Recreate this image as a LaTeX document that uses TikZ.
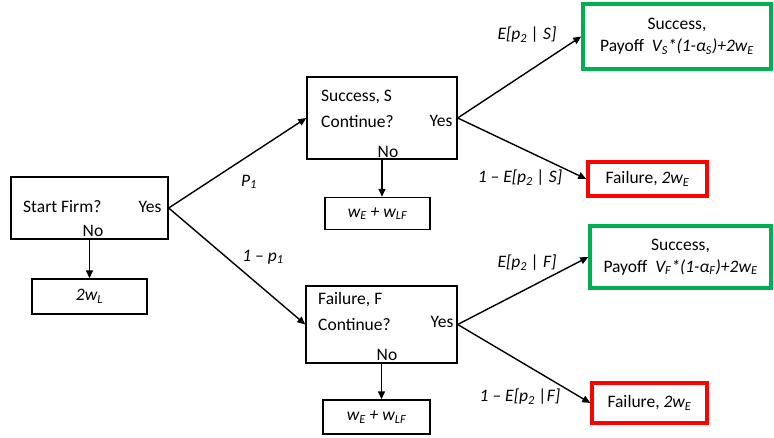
\documentclass[tikz,border=0pt]{standalone}
\usepackage{fontspec}
\setmainfont{Carlito}
\usetikzlibrary{arrows.meta}
\definecolor{boxgreen}{RGB}{0,176,80}
\definecolor{boxred}{RGB}{255,0,0}

\tikzset{
  every node/.style={font=\fontsize{17.5}{22}\selectfont},
  plainbox/.style={draw, line width=1.4pt, inner sep=0, minimum width=#1},
  greenbox/.style={draw=boxgreen, line width=3.5pt, inner sep=0, align=center},
  redbox/.style={draw=boxred, line width=3.5pt, inner sep=0},
  txt/.style={inner sep=0},
  conn/.style={line width=1.4pt, -{Triangle[length=8pt,width=7pt]}},
}

\begin{document}
\begin{tikzpicture}[x=1pt,y=-1pt]
\useasboundingbox (0,0) rectangle (774,438);

% first decision
\node[plainbox=157, minimum height=62] (start) at (89.5,208) {};
\node[txt, anchor=west] (startq) at (23,207) {Start Firm?};
\node[txt] (startyes) at (150,207) {Yes};
\node[txt] (startno) at (93,231) {No};
\node[plainbox=115, minimum height=35] (wl) at (89.5,296.5) {\textit{2w\textsubscript{L}}};

% success branch
\node[plainbox=150, minimum height=82] (S) at (382,118) {};
\node[txt, anchor=west] (Sq1) at (321,97) {Success, S};
\node[txt, anchor=west] (Sq2) at (321,122) {Continue?};
\node[txt] (Syes) at (441,121) {Yes};
\node[txt] (Sno) at (388,152) {No};
\node[plainbox=105, minimum height=32] (wS) at (377.5,213.5) {\textit{w\textsubscript{E} + w\textsubscript{LF}}};

% failure branch
\node[plainbox=151, minimum height=77] (F) at (381.5,324.5) {};
\node[txt, anchor=west] (Fq1) at (318,300) {Failure, F};
\node[txt, anchor=west] (Fq2) at (318,325) {Continue?};
\node[txt] (Fyes) at (442,322) {Yes};
\node[txt] (Fno) at (387,355) {No};
\node[plainbox=107, minimum height=34] (wF) at (376.5,417) {\textit{w\textsubscript{E} + w\textsubscript{LF}}};

% outcomes
\node[greenbox, minimum width=188, minimum height=65] (SS) at (677,36.5)
  {Success,\\Payoff\ \ \textit{V\textsubscript{S}*(1-α\textsubscript{S})+2w\textsubscript{E}}};
\node[redbox, minimum width=119, minimum height=34] (SF) at (647.5,179) {Failure, \textit{2w\textsubscript{E}}};
\node[greenbox, minimum width=181, minimum height=62] (FS) at (680.5,257)
  {Success,\\Payoff\ \ \textit{V\textsubscript{F}*(1-α\textsubscript{F})+2w\textsubscript{E}}};
\node[redbox, minimum width=115, minimum height=40] (FF) at (649.5,403) {Failure, \textit{2w\textsubscript{E}}};

% connectors
\draw[conn] (start.south) -- (wl.north);
\draw[conn] (start.east) -- (S.west);
\draw[conn] (start.east) -- (F.west);
\draw[conn] (S.south) -- (S.south |- wS.north);
\draw[conn] (F.south) -- (F.south |- wF.north);
\draw[conn] (S.east) -- (SS.west);
\draw[conn] (S.east) -- (SF.west);
\draw[conn] (F.east) -- (FS.west);
\draw[conn] (F.east) -- (FF.west);

% branch probabilities
\node[txt] (p1) at (249,182) {\textit{P\textsubscript{1}}};
\node[txt] (q1) at (263,257) {\textit{1 – p\textsubscript{1}}};
\node[txt] (pS) at (527,35) {\textit{E[p\textsubscript{2} | S]}};
\node[txt] (qS) at (520,178) {\textit{1 – E[p\textsubscript{2} | S]}};
\node[txt] (pF) at (527,263) {\textit{E[p\textsubscript{2} | F]}};
\node[txt] (qF) at (520,397) {\textit{1 – E[p\textsubscript{2} |F]}};
\end{tikzpicture}
\end{document}
